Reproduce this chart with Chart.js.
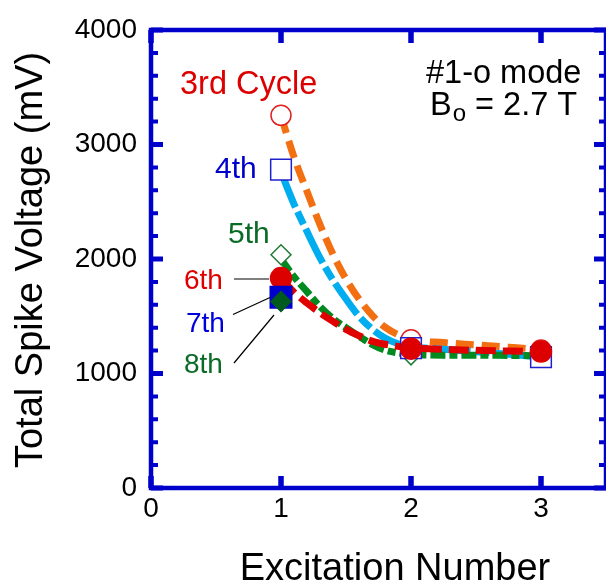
<!DOCTYPE html>
<html>
<head>
<meta charset="utf-8">
<script src="https://cdn.jsdelivr.net/npm/chart.js@4.4.1/dist/chart.umd.min.js"></script>
<style>
  html, body { margin: 0; padding: 0; background: #fff; overflow: hidden; }
  canvas { display: block; }
</style>
</head>
<body>
<canvas id="spike-chart" width="606" height="583"></canvas>
<script>
// measured points (excitation 1..3)
const excitation = [1, 2, 3];
const cycle3 = [3255, 1294, 1205];
const cycle4 = [2780, 1222, 1143];
const cycle5 = [2037, 1163, 1150];
const cycle6 = [1833, 1217, 1192];
const cycle7 = [1667, null, null];
const cycle8 = [1629, null, null];

// fitted curves
const fitX = [1, 1.1, 1.2, 1.3, 1.4, 1.5, 1.6, 1.7, 1.8, 1.9, 2, 2.25, 2.5, 2.75, 3];
const fit3 = [3250, 2890, 2590, 2300, 2040, 1825, 1650, 1510, 1405, 1340, 1300, 1270, 1250, 1230, 1210];
const fit4 = [2760, 2480, 2240, 2010, 1815, 1650, 1500, 1390, 1310, 1260, 1235, 1212, 1190, 1168, 1145];
const fit5 = [2000, 1845, 1715, 1585, 1480, 1400, 1325, 1255, 1205, 1180, 1168, 1160, 1160, 1158, 1155];
const fit6 = [1830, 1710, 1615, 1530, 1455, 1385, 1330, 1283, 1255, 1237, 1225, 1212, 1202, 1196, 1190];

const xTicks = [0, 1, 2, 3];
const yTicks = [0, 1000, 2000, 3000, 4000];
const yMinorStep = 200;

const AXIS_BLUE = "#0000cc";
const FONT = "'Liberation Sans', Arial, sans-serif";

function pts(xs, ys) {
  return xs.map((x, i) => ({ x: x, y: ys[i] })).filter(p => p.y !== null);
}

function fitLine(data, color, dash, order) {
  return {
    type: "line",
    data: pts(fitX, data),
    borderColor: color,
    borderWidth: 7,
    borderDash: dash,
    borderCapStyle: "butt",
    pointRadius: 0,
    cubicInterpolationMode: "monotone",
    fill: false,
    order: order
  };
}

function marker(data, style, radius, fillColor, edgeColor, order) {
  return {
    type: "line",
    showLine: false,
    data: pts(excitation, data),
    pointStyle: style,
    pointRadius: radius,
    pointBackgroundColor: fillColor,
    pointBorderColor: edgeColor,
    pointBorderWidth: 1.5,
    order: order
  };
}

// frame with inward ticks, like the original plot
const framePlugin = {
  id: "frame",
  afterDraw(chart) {
    const { ctx, chartArea: a, scales } = chart;
    const xs = scales.x, ys = scales.y;
    ctx.save();
    ctx.strokeStyle = AXIS_BLUE;
    ctx.lineCap = "butt";

    // minor y ticks
    ctx.lineWidth = 4;
    for (let v = 0; v <= 4000; v += yMinorStep) {
      if (yTicks.includes(v)) continue;
      const y = ys.getPixelForValue(v);
      ctx.beginPath();
      ctx.moveTo(a.left, y); ctx.lineTo(a.left + 7, y);
      ctx.moveTo(a.right, y); ctx.lineTo(a.right - 7, y);
      ctx.stroke();
    }
    // major y ticks
    ctx.lineWidth = 5;
    yTicks.forEach(v => {
      const y = ys.getPixelForValue(v);
      ctx.beginPath();
      ctx.moveTo(a.left, y); ctx.lineTo(a.left + 12, y);
      ctx.moveTo(a.right, y); ctx.lineTo(a.right - 12, y);
      ctx.stroke();
    });
    // major x ticks
    ctx.lineWidth = 5.5;
    xTicks.forEach(v => {
      const x = xs.getPixelForValue(v);
      ctx.beginPath();
      ctx.moveTo(x, a.bottom); ctx.lineTo(x, a.bottom - 12);
      ctx.moveTo(x, a.top); ctx.lineTo(x, a.top + 13);
      ctx.stroke();
    });
    // box
    ctx.lineWidth = 4.5;
    ctx.strokeRect(a.left, a.top, a.right - a.left, a.bottom - a.top);
    ctx.restore();
  }
};

// labels, leader lines and axis titles
const textPlugin = {
  id: "texts",
  afterDraw(chart) {
    const ctx = chart.ctx;
    ctx.save();
    ctx.textBaseline = "alphabetic";
    ctx.textAlign = "left";

    const labels = [
      ["3rd Cycle", 180, 94, 32.5, "#dd0000"],
      ["4th", 215, 178, 30, "#0000cc"],
      ["5th", 228, 243, 30, "#0a6b26"],
      ["6th", 184, 289, 28, "#e00000"],
      ["7th", 186, 332, 28, "#0000dd"],
      ["8th", 184, 373, 28, "#0a6b26"],
      ["#1-o mode", 426, 83, 32.5, "#000000"]
    ];
    labels.forEach(([t, x, y, size, c]) => {
      ctx.font = size + "px " + FONT;
      ctx.fillStyle = c;
      ctx.fillText(t, x, y);
    });

    // B_o = 2.7 T
    ctx.fillStyle = "#000";
    ctx.font = "32.5px " + FONT;
    let bx = 430;
    ctx.fillText("B", bx, 115);
    bx += ctx.measureText("B").width;
    ctx.font = "24px " + FONT;
    ctx.fillText("o", bx + 1, 121);
    bx += ctx.measureText("o").width + 1;
    ctx.font = "32.5px " + FONT;
    ctx.fillText(" = 2.7 T", bx, 115);

    // leader lines
    ctx.strokeStyle = "#000";
    ctx.lineWidth = 1.2;
    ctx.beginPath();
    ctx.moveTo(234, 279); ctx.lineTo(269, 279);
    ctx.moveTo(233, 314.5); ctx.lineTo(270, 297.5);
    ctx.moveTo(234, 363); ctx.lineTo(274, 315);
    ctx.stroke();

    // axis titles
    ctx.font = "38px " + FONT;
    ctx.fillStyle = "#000";
    ctx.textAlign = "center";
    ctx.fillText("Excitation Number", 395, 580);
    ctx.translate(42, 260);
    ctx.rotate(-Math.PI / 2);
    ctx.fillText("Total Spike Voltage (mV)", 0, 0);
    ctx.restore();
  }
};

Chart.defaults.font.family = FONT;
Chart.defaults.color = "#000";

new Chart(document.getElementById("spike-chart"), {
  type: "line",
  data: {
    datasets: [
      fitLine(fit3, "#f26f12", [18, 8], 13),
      fitLine(fit4, "#00aeef", [38, 5, 14, 5], 12),
      fitLine(fit5, "#008a20", [15, 4, 8, 4], 11),
      fitLine(fit6, "#e00000", [20, 7], 10),
      marker(cycle5, "rectRot", 10, "#ffffff", "#1f7a33", 6),
      marker(cycle3, "circle", 10, "#ffffff", "#e02020", 5),
      marker(cycle4, "rect", 14.6, "#ffffff", "#2020cc", 4),
      marker(cycle6, "circle", 10.5, "#dd0000", "#dd0000", 3),
      marker(cycle7, "rect", 15.2, "#0000cc", "#0000cc", 2),
      marker(cycle8, "rectRot", 10, "#005a1e", "#005a1e", 1)
    ]
  },
  options: {
    responsive: false,
    animation: false,
    events: [],
    layout: { autoPadding: false, padding: { top: 30, right: 0, left: 0, bottom: 0 } },
    plugins: {
      legend: { display: false },
      tooltip: { enabled: false }
    },
    scales: {
      x: {
        type: "linear",
        min: 0,
        max: 3.5,
        grid: { display: false, drawTicks: false },
        border: { display: false },
        afterBuildTicks: s => { s.ticks = xTicks.map(v => ({ value: v })); },
        afterFit: s => { s.height = 95; s.paddingLeft = 0; s.paddingRight = 0; },
        ticks: { font: { size: 28 }, padding: 4, maxRotation: 0, callback: v => String(v) }
      },
      y: {
        type: "linear",
        min: 0,
        max: 4000,
        grid: { display: false, drawTicks: false },
        border: { display: false },
        afterBuildTicks: s => { s.ticks = yTicks.map(v => ({ value: v })); },
        afterFit: s => { s.width = 151; s.paddingTop = 0; s.paddingBottom = 0; },
        ticks: { font: { size: 28 }, padding: 14, callback: v => String(v) }
      }
    }
  },
  plugins: [framePlugin, textPlugin]
});
</script>
</body>
</html>
